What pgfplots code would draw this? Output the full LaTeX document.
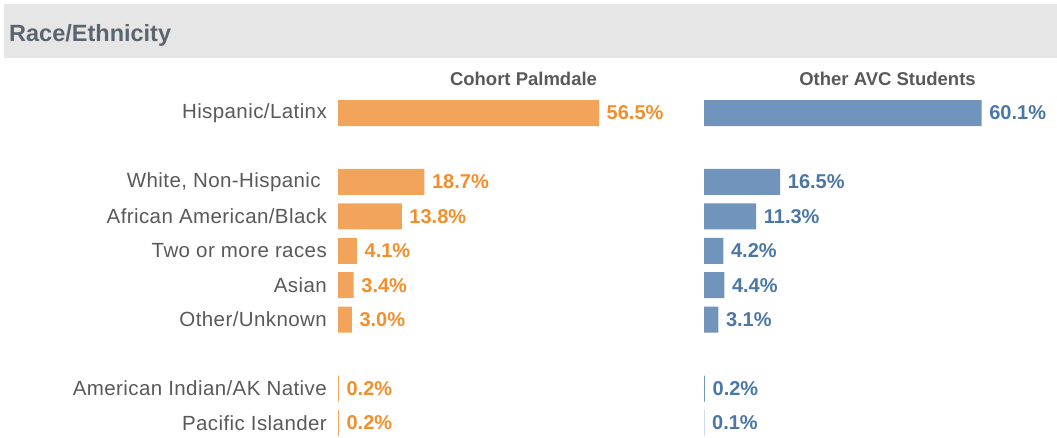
\documentclass[border=0pt]{standalone}
\usepackage{pgfplots}
\pgfplotsset{compat=1.18}
\usepackage{fontspec}
\setmainfont{Liberation Sans}
\newfontfamily\catfont[LetterSpace=2]{Liberation Sans}
\definecolor{barO}{HTML}{F2A55A}
\definecolor{txtO}{HTML}{F28E2B}
\definecolor{barB}{HTML}{7094BB}
\definecolor{txtB}{HTML}{4A77A8}
\definecolor{catgray}{HTML}{595959}
\definecolor{hdrbg}{HTML}{E6E6E6}
\definecolor{hdrtxt}{HTML}{5B6570}
\pgfplotsset{mybar/.style={
  xbar, scale only axis, width=277.2bp, height=344.4bp,
  xmin=0, xmax=60, ymin=-0.5, ymax=9.5, y dir=reverse,
  axis line style={draw=none}, xtick=\empty, major tick length=0pt,
  clip=false, bar width=26bp, anchor=south west,
  nodes near coords={\pgfmathprintnumber[fixed,fixed zerofill,precision=1,assume math mode=true]{\pgfplotspointmeta}\%},
  every node near coord/.append style={font=\fontsize{20bp}{24bp}\selectfont\bfseries, inner sep=0pt, xshift=7.5bp, anchor=west},
}}
\begin{document}
\begin{tikzpicture}
\useasboundingbox (0bp,0bp) rectangle (1057bp,438bp);
\fill[hdrbg] (4bp,434bp) rectangle (1057bp,380bp);
\node[anchor=west, inner sep=0pt, text=hdrtxt, font=\fontsize{23.5bp}{28bp}\selectfont\bfseries] at (9bp,403bp) {Race/Ethnicity};
\node[inner sep=0pt, text=catgray, font=\fontsize{18.5bp}{22bp}\selectfont\bfseries] at (523.5bp,359bp) {Cohort Palmdale};
\node[inner sep=0pt, text=catgray, font=\fontsize{18.5bp}{22bp}\selectfont\bfseries] at (887.5bp,359bp) {Other AVC Students};

\begin{axis}[mybar, at={(338bp,-2.2bp)},
  ytick={0,2,3,4,5,6,8,9},
  yticklabels={Hispanic/Latinx, {White, Non-Hispanic\ \ }, African American/Black, Two or more races, Asian, Other/Unknown, American Indian/AK Native, Pacific Islander},
  yticklabel style={font=\fontsize{20.5bp}{24bp}\catfont, text=catgray, inner sep=0pt, xshift=-11bp},
  every node near coord/.append style={text=txtO}]
\addplot[fill=barO, draw=none] coordinates {(56.5,0) (18.7,2) (13.8,3) (4.1,4) (3.4,5) (3.0,6) (0.2,8) (0.2,9)};
\end{axis}

\begin{axis}[mybar, at={(704bp,-2.2bp)}, ytick=\empty,
  every node near coord/.append style={text=txtB}]
\addplot[fill=barB, draw=none] coordinates {(60.1,0) (16.5,2) (11.3,3) (4.2,4) (4.4,5) (3.1,6) (0.2,8) (0.1,9)};
\end{axis}
\end{tikzpicture}
\end{document}
